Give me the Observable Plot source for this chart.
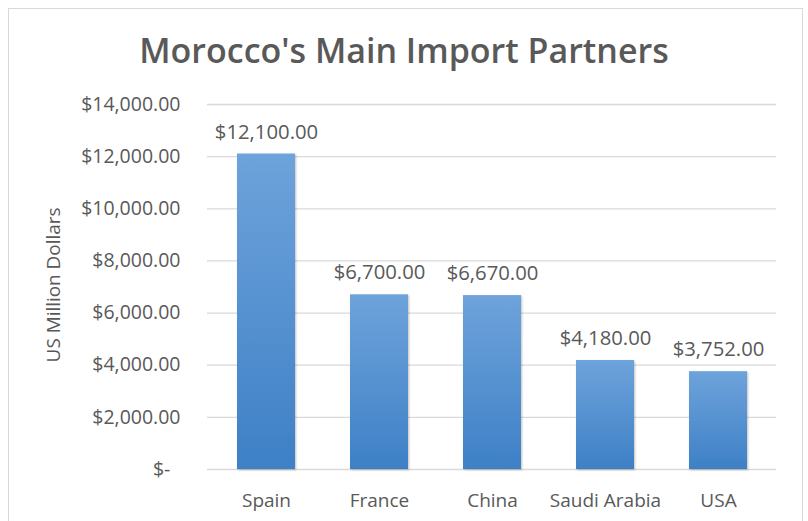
<!DOCTYPE html>
<html>
<head>
<meta charset="utf-8">
<script src="https://cdn.jsdelivr.net/npm/d3@7"></script>
<script src="https://cdn.jsdelivr.net/npm/@observablehq/plot@0.6"></script>
<style>
  html, body { margin: 0; padding: 0; background: #fff; }
  #wrap { position: relative; width: 808px; height: 521px; overflow: hidden; font-family: "Open Sans", sans-serif; }
  #frame { position: absolute; left: 8px; top: 8px; width: 793px; height: 540px; border: 1px solid #d9d9d9; pointer-events: none; }
  #title { height: 90px; box-sizing: border-box; padding-top: 33px; font-size: 34px; line-height: 34px; font-weight: 600; color: #595959; text-align: center; }
  svg { display: block; }
</style>
</head>
<body>
<div id="wrap">
  <div id="frame"></div>
  <div id="title">Morocco's Main Import Partners</div>
  <div id="chart"></div>
</div>
<script>
const countries = ["Spain", "France", "China", "Saudi Arabia", "USA"];
const values = [12100, 6700, 6670, 4180, 3752];
const yTicks = [0, 2000, 4000, 6000, 8000, 10000, 12000, 14000];
const yLabel = "US Million Dollars";

const data = countries.map((c, i) => ({country: c, value: values[i]}));
const money = d3.format(",.2f");
const fmtTick = d => d === 0 ? "$-\u00a0\u00a0" : "$" + money(d);
const fmtVal = d => "$" + money(d);

const svg = Plot.plot({
  width: 808,
  height: 431,
  marginTop: 14,
  marginBottom: 52,
  marginLeft: 207,
  marginRight: 32,
  style: {fontFamily: "Open Sans, sans-serif", color: "#595959", background: "transparent"},
  x: {domain: countries, paddingInner: 0.49, paddingOuter: 0.245, label: null},
  y: {domain: [0, 14000], label: null},
  marks: [
    Plot.gridY(yTicks, {stroke: "#d9d9d9", strokeOpacity: 1, strokeWidth: 1.3}),
    Plot.barY(data, {x: "country", y: "value", fill: "url(#barGrad)"}),
    Plot.text(data, {x: "country", y: "value", text: d => fmtVal(d.value), dy: -22, fontSize: 20.3, fill: "#595959"}),
    Plot.axisY({ticks: yTicks, tickFormat: fmtTick, tickSize: 0, tickPadding: 27, fontSize: 19.5, label: null}),
    Plot.axisX({tickSize: 0, tickPadding: 23.5, fontSize: 19, label: null}),
    Plot.text([yLabel], {frameAnchor: "left", textAnchor: "middle", dx: -154, dy: -2, rotate: -90, fontSize: 18.9, fill: "#595959"})
  ]
});

const defs = d3.select(svg).insert("defs", ":first-child");
const grad = defs.append("linearGradient").attr("id", "barGrad")
  .attr("x1", 0).attr("y1", 0).attr("x2", 0).attr("y2", 1);
grad.append("stop").attr("offset", "0%").attr("stop-color", "#6ea3db");
grad.append("stop").attr("offset", "100%").attr("stop-color", "#3e80c6");
const filt = defs.append("filter").attr("id", "barShadow")
  .attr("x", "-10%").attr("y", "-10%").attr("width", "130%").attr("height", "130%");
filt.append("feDropShadow").attr("dx", 1).attr("dy", 1).attr("stdDeviation", 1.2)
  .attr("flood-color", "#000").attr("flood-opacity", 0.25);
d3.select(svg).selectAll("g[aria-label='bar']").attr("filter", "url(#barShadow)");

document.getElementById("chart").appendChild(svg);
</script>
</body>
</html>
